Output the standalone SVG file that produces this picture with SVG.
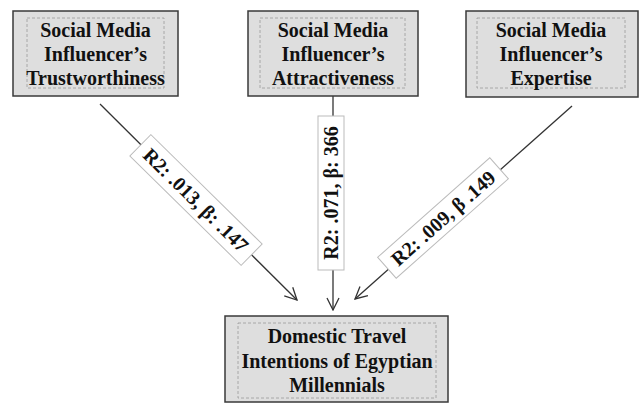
<svg xmlns="http://www.w3.org/2000/svg" width="641" height="403" viewBox="0 0 641 403">
<style>
.outer{fill:#dedede;stroke:#3a3a3a;stroke-width:1.5}
.inner{fill:none;stroke:#9a9a9a;stroke-width:0.8;stroke-dasharray:3,2}
.t{font-family:"Liberation Serif","Times New Roman",serif;font-weight:bold;font-size:20px;fill:#111;text-anchor:middle}
.lbl{font-family:"Liberation Serif","Times New Roman",serif;font-weight:bold;font-size:20px;fill:#111;text-anchor:middle}
.ln{stroke:#333;stroke-width:1.3;fill:none;marker-end:url(#arr)}
.lb{fill:#fff;stroke:#bbb;stroke-width:1}
</style>
<defs>
<marker id="arr" markerUnits="userSpaceOnUse" markerWidth="14" markerHeight="14" refX="13" refY="7" orient="auto" viewBox="0 0 14 14">
<path d="M1,1 L13,7 L1,13" fill="none" stroke="#333" stroke-width="1.3"/>
</marker>
</defs>
<rect width="641" height="403" fill="#fff"/>
<g id="connectors">
<line class="ln" x1="100" y1="104" x2="297" y2="300"/>
<line class="ln" x1="333" y1="96" x2="333" y2="310"/>
<line class="ln" x1="572" y1="106" x2="355" y2="299"/>
<g transform="translate(196,200) rotate(44.5)">
<rect class="lb" x="-78" y="-15" width="156" height="30"/>
<text class="lbl" x="0" y="7">R2: .013, β: .147</text>
</g>
<g transform="translate(331,193) rotate(-90)">
<rect class="lb" x="-77" y="-13" width="154" height="26"/>
<text class="lbl" x="0" y="7">R2: .071, β: 366</text>
</g>
<g transform="translate(443,218) rotate(-41.6)">
<rect class="lb" x="-75" y="-14" width="150" height="28"/>
<text class="lbl" x="0" y="7">R2: .009, β .149</text>
</g>
</g>
<g id="trustworthiness">
<rect class="outer" x="13" y="11" width="165" height="85"/>
<rect class="inner" x="27" y="18" width="137" height="70"/>
<text class="t" x="95.5" y="37">Social Media</text>
<text class="t" x="95.5" y="61">Influencer’s</text>
<text class="t" x="95.5" y="85">Trustworthiness</text>
</g>
<g id="attractiveness">
<rect class="outer" x="248" y="11" width="170" height="85"/>
<rect class="inner" x="260" y="18" width="145" height="70"/>
<text class="t" x="333" y="37">Social Media</text>
<text class="t" x="333" y="61">Influencer’s</text>
<text class="t" x="333" y="85">Attractiveness</text>
</g>
<g id="expertise">
<rect class="outer" x="466" y="11" width="172" height="86"/>
<rect class="inner" x="477" y="18" width="148" height="70"/>
<text class="t" x="551" y="37">Social Media</text>
<text class="t" x="551" y="61">Influencer’s</text>
<text class="t" x="551" y="85">Expertise</text>
</g>
<g id="intentions">
<rect class="outer" x="225" y="316" width="223" height="86"/>
<rect class="inner" x="238" y="323" width="198" height="75"/>
<text class="t" x="337" y="343">Domestic Travel</text>
<text class="t" x="337" y="368">Intentions of Egyptian</text>
<text class="t" x="337" y="392">Millennials</text>
</g>
</svg>
